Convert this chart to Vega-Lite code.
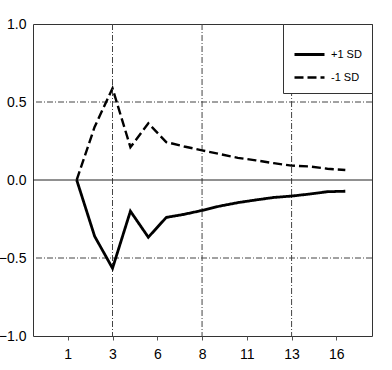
{
  "$schema": "https://vega.github.io/schema/vega-lite/v6.json",
  "width": 339,
  "height": 312,
  "autosize": {"type": "none"},
  "padding": {"left": 33, "top": 24, "right": 20, "bottom": 34},
  "background": "white",
  "config": {
    "view": {"stroke": "#333333", "strokeWidth": 1},
    "font": "Liberation Sans"
  },
  "datasets": {
    "irf": [
      {"p": 1, "v": 0, "s": "+1 SD"},
      {"p": 2, "v": -0.36, "s": "+1 SD"},
      {"p": 3, "v": -0.566, "s": "+1 SD"},
      {"p": 4, "v": -0.2, "s": "+1 SD"},
      {"p": 5, "v": -0.367, "s": "+1 SD"},
      {"p": 6, "v": -0.24, "s": "+1 SD"},
      {"p": 7, "v": -0.22, "s": "+1 SD"},
      {"p": 8, "v": -0.195, "s": "+1 SD"},
      {"p": 9, "v": -0.167, "s": "+1 SD"},
      {"p": 10, "v": -0.145, "s": "+1 SD"},
      {"p": 11, "v": -0.128, "s": "+1 SD"},
      {"p": 12, "v": -0.112, "s": "+1 SD"},
      {"p": 13, "v": -0.103, "s": "+1 SD"},
      {"p": 14, "v": -0.09, "s": "+1 SD"},
      {"p": 15, "v": -0.075, "s": "+1 SD"},
      {"p": 16, "v": -0.072, "s": "+1 SD"},
      {"p": 1, "v": 0, "s": "-1 SD"},
      {"p": 2, "v": 0.34, "s": "-1 SD"},
      {"p": 3, "v": 0.588, "s": "-1 SD"},
      {"p": 4, "v": 0.21, "s": "-1 SD"},
      {"p": 5, "v": 0.363, "s": "-1 SD"},
      {"p": 6, "v": 0.243, "s": "-1 SD"},
      {"p": 7, "v": 0.215, "s": "-1 SD"},
      {"p": 8, "v": 0.19, "s": "-1 SD"},
      {"p": 9, "v": 0.166, "s": "-1 SD"},
      {"p": 10, "v": 0.142, "s": "-1 SD"},
      {"p": 11, "v": 0.126, "s": "-1 SD"},
      {"p": 12, "v": 0.108, "s": "-1 SD"},
      {"p": 13, "v": 0.092, "s": "-1 SD"},
      {"p": 14, "v": 0.087, "s": "-1 SD"},
      {"p": 15, "v": 0.072, "s": "-1 SD"},
      {"p": 16, "v": 0.064, "s": "-1 SD"}
    ],
    "vgrid": [{"g": 3}, {"g": 8}, {"g": 13}],
    "hgrid": [{"h": -0.5}, {"h": 0.5}]
  },
  "layer": [
    {
      "data": {"name": "vgrid"},
      "mark": {"type": "rule", "color": "#444444", "strokeWidth": 1, "strokeDash": [6, 2, 1, 2]},
      "encoding": {
        "x": {"field": "g", "type": "quantitative", "scale": {"domain": [-1.44, 17.49], "nice": false, "zero": false}}
      }
    },
    {
      "data": {"name": "hgrid"},
      "mark": {"type": "rule", "color": "#444444", "strokeWidth": 1, "strokeDash": [6, 2, 1, 2]},
      "encoding": {
        "y": {"field": "h", "type": "quantitative", "scale": {"domain": [-1, 1], "nice": false}}
      }
    },
    {
      "data": {"values": [{"z": 0}]},
      "mark": {"type": "rule", "color": "#222222", "strokeWidth": 1},
      "encoding": {
        "y": {"field": "z", "type": "quantitative"}
      }
    },
    {
      "data": {"name": "irf"},
      "mark": {"type": "line", "color": "black"},
      "encoding": {
        "x": {
          "field": "p",
          "type": "quantitative",
          "scale": {"domain": [-1.44, 17.49], "nice": false, "zero": false},
          "axis": {
            "title": null,
            "values": [0.5, 3, 5.5, 8, 10.5, 13, 15.5],
            "labelExpr": "format(round(datum.value), 'd')",
            "grid": false,
            "domain": false,
            "tickSize": 4,
            "tickColor": "#555555",
            "labelFont": "Liberation Sans Narrow, Liberation Sans",
            "labelFontSize": 14,
            "labelColor": "black",
            "labelPadding": 7
          }
        },
        "y": {
          "field": "v",
          "type": "quantitative",
          "scale": {"domain": [-1, 1], "nice": false},
          "axis": {
            "title": null,
            "values": [-1, -0.5, 0, 0.5, 1],
            "format": ".1f",
            "grid": false,
            "domain": false,
            "ticks": false,
            "labelFont": "Liberation Sans Narrow, Liberation Sans",
            "labelFontSize": 14,
            "labelColor": "black",
            "labelPadding": 7
          }
        },
        "detail": {"field": "s"},
        "strokeDash": {
          "field": "s",
          "type": "nominal",
          "scale": {"domain": ["+1 SD", "-1 SD"], "range": [[1, 0], [9, 4]]},
          "legend": {
            "orient": "none",
            "legendX": 250,
            "legendY": 0,
            "title": "\u00a0",
            "titleFontSize": 2,
            "titlePadding": 2,
            "strokeColor": "#333333",
            "fillColor": "white",
            "padding": 10,
            "symbolType": "stroke",
            "symbolSize": 900,
            "symbolStrokeColor": "black",
            "labelFontSize": 11,
            "labelColor": "black",
            "labelOffset": 5,
            "rowPadding": -11,
            "labelLimit": 60
          }
        },
        "strokeWidth": {
          "field": "s",
          "type": "nominal",
          "scale": {"domain": ["+1 SD", "-1 SD"], "range": [2.8, 2.4]},
          "legend": {
            "orient": "none",
            "legendX": 250,
            "legendY": 0,
            "title": "\u00a0",
            "titleFontSize": 2,
            "titlePadding": 2,
            "strokeColor": "#333333",
            "fillColor": "white",
            "padding": 10,
            "symbolType": "stroke",
            "symbolSize": 900,
            "symbolStrokeColor": "black",
            "labelFontSize": 11,
            "labelColor": "black",
            "labelOffset": 5,
            "rowPadding": -11,
            "labelLimit": 60
          }
        }
      }
    }
  ]
}
